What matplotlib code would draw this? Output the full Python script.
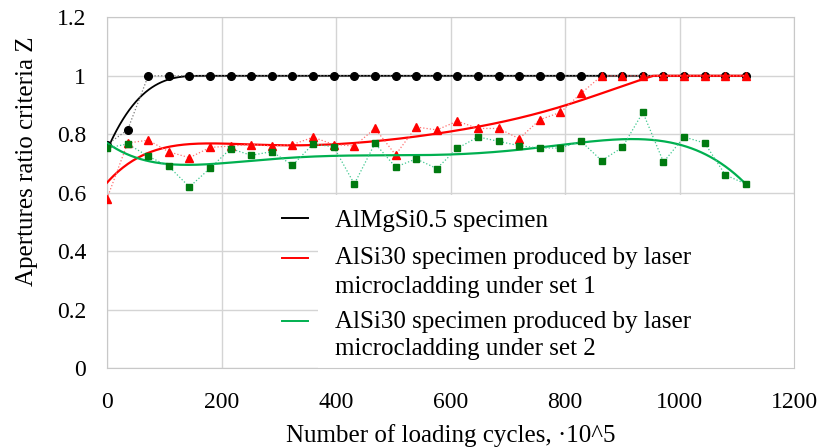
import numpy as np
import matplotlib
matplotlib.use("Agg")
import matplotlib.pyplot as plt
from matplotlib.patches import Rectangle

# loading cycles (x10^5)
cycles = [0, 36, 72, 108, 144, 180, 216, 252, 288, 324, 360, 396, 432, 468, 504, 540,
          576, 612, 648, 684, 720, 756, 792, 828, 864, 900, 936, 972, 1008, 1044, 1080, 1116]

z_almgsi = [0.765, 0.815, 1.0, 1.0, 1.0, 1.0, 1.0, 1.0, 1.0, 1.0, 1.0, 1.0, 1.0, 1.0, 1.0, 1.0,
            1.0, 1.0, 1.0, 1.0, 1.0, 1.0, 1.0, 1.0, 1.0, 1.0, 1.0, 1.0, 1.0, 1.0, 1.0, 1.0]
z_set1 = [0.58, 0.77, 0.78, 0.74, 0.72, 0.755, 0.76, 0.765, 0.76, 0.765, 0.79, 0.765, 0.76, 0.82, 0.73, 0.825,
          0.815, 0.845, 0.82, 0.82, 0.785, 0.85, 0.875, 0.94, 1.0, 1.0, 1.0, 1.0, 1.0, 1.0, 1.0, 1.0]
z_set2 = [0.753, 0.767, 0.725, 0.690, 0.620, 0.684, 0.751, 0.728, 0.741, 0.694, 0.767, 0.757, 0.630, 0.769, 0.688, 0.716,
          0.683, 0.752, 0.791, 0.776, 0.761, 0.753, 0.753, 0.776, 0.710, 0.755, 0.875, 0.705, 0.791, 0.770, 0.661, 0.630]

labels = ["AlMgSi0.5 specimen",
          "AlSi30 specimen produced by laser\nmicrocladding under set 1",
          "AlSi30 specimen produced by laser\nmicrocladding under set 2"]

plt.rcParams["font.family"] = ["Liberation Serif", "DejaVu Serif"]

x = np.array(cycles, dtype=float)
xs = np.linspace(0, x.max(), 400)


def sat_fit(xd, yd, k=3):
    # 1 - a*(1 - x/b)^k up to b, flat at 1 afterwards
    best = None
    for b in np.arange(60, 400, 2.0):
        g = np.clip(1 - xd / b, 0, None) ** k
        a = np.dot(g, 1 - yd) / max(np.dot(g, g), 1e-9)
        err = np.sum((1 - a * g - yd) ** 2)
        if best is None or err < best[0]:
            best = (err, a, b)
    _, a, b = best
    return lambda t: 1 - a * np.clip(1 - t / b, 0, None) ** k


def capped_poly(xd, yd, deg):
    p = np.polyfit(xd, yd, deg)
    y = np.polyval(p, xs)
    hit = np.argmax(y >= 1.0) if np.any(y >= 1.0) else len(y)
    y[hit:] = 1.0
    return y


black_trend = sat_fit(x, np.array(z_almgsi))(xs)
red_trend = capped_poly(x, np.array(z_set1), 6)
green_trend = np.polyval(np.polyfit(x, np.array(z_set2), 6), xs)

fig = plt.figure(figsize=(8.18, 4.48), dpi=100)
ax = fig.add_axes([0.1308, 0.1779, 0.8399, 0.7835])

ax.plot(x, z_almgsi, ls=":", lw=0.9, color="#777777", marker="o", ms=5.5,
        mfc="black", mec="black", zorder=3)
ax.plot(xs, black_trend, color="black", lw=1.3, zorder=2.5)

ax.plot(x, z_set1, ls=":", lw=0.9, color="#ff7070", marker="^", ms=5.5,
        mfc="red", mec="red", zorder=4)
ax.plot(xs, red_trend, color="red", lw=1.6, zorder=3.5)

ax.plot(x, z_set2, ls=":", lw=0.9, color="#40c890", marker="s", ms=5,
        mfc="#007a10", mec="#007a10", zorder=5)
ax.plot(xs, green_trend, color="#00b050", lw=1.6, zorder=4.5)

ax.set_xlim(0, 1200)
ax.set_ylim(0, 1.2)
ax.set_xticks([0, 200, 400, 600, 800, 1000, 1200])
ax.set_yticks([0, 0.2, 0.4, 0.6, 0.8, 1.0, 1.2])
ax.set_yticklabels(["0", "0.2", "0.4", "0.6", "0.8", "1", "1.2"])
ax.tick_params(length=0, labelsize=17, colors="black")
ax.tick_params(axis="y", pad=15)
ax.tick_params(axis="x", pad=17)
ax.grid(color="#d4d4d4", lw=1)
ax.set_axisbelow(True)
for s in ax.spines.values():
    s.set_color("#c8c8c8")

ax.set_xlabel("Number of loading cycles, ·10^5", fontsize=18, labelpad=8)
ax.set_ylabel("Apertures ratio criteria Z", fontsize=18)
ax.yaxis.set_label_coords(-0.10, 0.59)

# white box behind the key
ax.add_patch(Rectangle((0.307, 0.0), 0.693, 0.494, transform=ax.transAxes,
                       facecolor="white", edgecolor="none", zorder=1))

key_cols = ["black", "red", "#00b050"]
key_y = [0.428, 0.315, 0.1356]
line_y = [[0.4185], [0.314, 0.2316], [0.1328, 0.055]]
for lab, col, yy, ly in zip(labels, key_cols, key_y, line_y):
    ax.plot([0.2547, 0.2926], [yy, yy], color=col, lw=1.4, transform=ax.transAxes, zorder=6)
    for part, ty in zip(lab.split("\n"), ly):
        ax.text(0.332, ty, part, transform=ax.transAxes, fontsize=18,
                va="center", ha="left", zorder=6)

fig.savefig("out.png", dpi=100)
